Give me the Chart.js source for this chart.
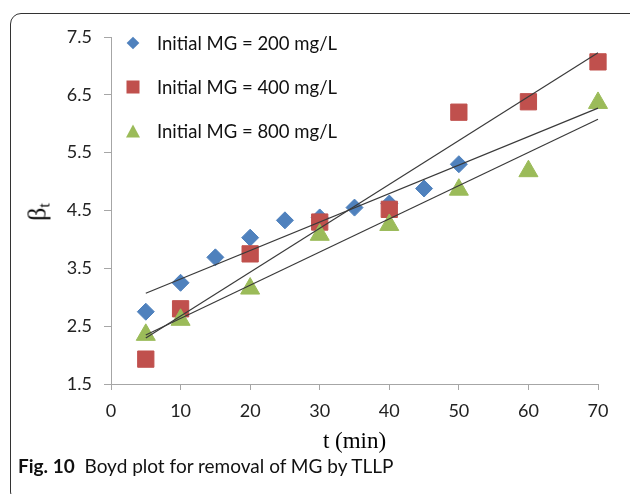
<!DOCTYPE html>
<html>
<head>
<meta charset="utf-8">
<script src="https://cdn.jsdelivr.net/npm/chart.js@4.4.0/dist/chart.umd.min.js"></script>
<style>
  html, body { margin: 0; padding: 0; background: #fff; }
  body { width: 630px; height: 494px; position: relative; overflow: hidden; font-family: Lato, sans-serif; }
  .frame { position: absolute; left: 10px; top: 13px; width: 700px; height: 490px; border: 1.5px solid #333; border-radius: 11px; box-sizing: border-box; }
  #boydChart { position: absolute; left: 0; top: 0; }
  .ylabel { position: absolute; left: 38px; top: 212px; transform: translate(-50%, -50%) rotate(-90deg); font-family: 'Liberation Serif', serif; font-size: 26px; color: #000; white-space: nowrap; }
  .ylabel sub { font-size: 16px; vertical-align: -4px; }
  .legend { position: absolute; left: 120px; top: 31px; }
  .legend .row { position: relative; height: 44px; font-size: 18.5px; color: #111; }
  .legend .mk { position: absolute; left: 13px; top: 12px; transform: translate(-50%, -50%); }
  .legend .txt { position: absolute; left: 37px; top: 0; line-height: 24px; white-space: nowrap; }
  .caption { position: absolute; left: 18px; top: 455px; font-size: 19px; line-height: 22px; color: #111; white-space: nowrap; }
</style>
</head>
<body>
<div class="frame"></div>
<canvas id="boydChart" width="630" height="494"></canvas>
<div class="ylabel">β<sub>t</sub></div>
<div class="legend" id="legend"></div>
<div class="caption"><b>Fig. 10</b>&nbsp; Boyd plot for removal of MG by TLLP</div>
<script>
// valores
const time200 = [5, 10, 15, 20, 25, 30, 35, 40, 45, 50];
const beta200 = [2.75, 3.25, 3.69, 4.03, 4.33, 4.38, 4.55, 4.62, 4.88, 5.30];
const time400 = [5, 10, 20, 30, 40, 50, 60, 70];
const beta400 = [1.93, 2.80, 3.75, 4.30, 4.52, 6.20, 6.38, 7.07];
const time800 = [5, 10, 20, 30, 40, 50, 60, 70];
const beta800 = [2.35, 2.61, 3.15, 4.08, 4.25, 4.86, 5.18, 6.36];
const seriesLabels = ['Initial MG = 200 mg/L', 'Initial MG = 400 mg/L', 'Initial MG = 800 mg/L'];
const seriesColors = ['#4F81BD', '#C0504D', '#9BBB59'];
const trendRange = [5, 70];
const yTicks = [1.5, 2.5, 3.5, 4.5, 5.5, 6.5, 7.5];

const toPoints = (xs, ys) => xs.map((x, i) => ({ x: x, y: ys[i] }));

// recta de mínimos cuadrados (línea de tendencia)
function trend(xs, ys) {
  const n = xs.length;
  const mx = xs.reduce((a, b) => a + b, 0) / n;
  const my = ys.reduce((a, b) => a + b, 0) / n;
  let sxy = 0, sxx = 0;
  xs.forEach((x, i) => { sxy += (x - mx) * (ys[i] - my); sxx += (x - mx) * (x - mx); });
  const m = sxy / sxx;
  const b = my - m * mx;
  return trendRange.map(x => ({ x: x, y: m * x + b }));
}

const lineStyle = {
  type: 'line',
  borderColor: '#3a3a3a',
  borderWidth: 1.2,
  pointRadius: 0,
  showLine: true,
  fill: false,
  clip: false,
  order: 0,
};

const chartData = {
  datasets: [
    { ...lineStyle, label: 'trend200', data: trend(time200, beta200) },
    { ...lineStyle, label: 'trend400', data: trend(time400, beta400) },
    { ...lineStyle, label: 'trend800', data: trend(time800, beta800) },
    {
      label: seriesLabels[0], data: toPoints(time200, beta200),
      pointStyle: 'rectRot', pointRadius: 8.5, borderWidth: 1,
      backgroundColor: seriesColors[0], borderColor: seriesColors[0], clip: false, order: 3,
    },
    {
      label: seriesLabels[1], data: toPoints(time400, beta400),
      pointStyle: 'rect', pointRadius: 11.5, borderWidth: 1,
      backgroundColor: seriesColors[1], borderColor: seriesColors[1], clip: false, order: 2,
    },
    {
      label: seriesLabels[2], data: toPoints(time800, beta800),
      pointStyle: 'triangle', pointRadius: 11, borderWidth: 1,
      backgroundColor: seriesColors[2], borderColor: seriesColors[2], clip: false, order: 1,
    },
  ],
};

const axisGray = '#a6a6a6';
const tickFont = { family: 'Lato', size: 18 };

const config = {
  type: 'scatter',
  data: chartData,
  options: {
    responsive: false,
    animation: false,
    layout: { padding: { left: 0, right: 32, top: 37, bottom: 30 } },
    scales: {
      x: {
        type: 'linear',
        min: 0,
        max: 70,
        afterFit: (scale) => { scale.height = 80; },
        border: { display: true, color: axisGray, width: 1 },
        grid: { drawOnChartArea: false, drawTicks: true, tickLength: 6, color: axisGray },
        ticks: { stepSize: 10, color: '#222', font: tickFont, padding: 10 },
        title: {
          display: true,
          text: 't (min)',
          color: '#000',
          font: { family: 'Liberation Serif', size: 23 },
          padding: { top: 0, bottom: 8 },
        },
      },
      y: {
        type: 'linear',
        min: 1.5,
        max: 7.5,
        afterFit: (scale) => { scale.width = 111; },
        afterBuildTicks: (scale) => { scale.ticks = yTicks.map(v => ({ value: v })); },
        border: { display: true, color: axisGray, width: 1 },
        grid: { drawOnChartArea: false, drawTicks: true, tickLength: 7, color: axisGray },
        ticks: { color: '#222', font: tickFont, padding: 12, callback: (v) => v.toFixed(1) },
      },
    },
    plugins: {
      legend: { display: false },
      tooltip: { enabled: false },
      title: { display: false },
    },
  },
};

new Chart(document.getElementById('boydChart'), config);

// leyenda dentro del área del gráfico
const markerCss = [
  'width:9px;height:9px;background:' + seriesColors[0] + ';transform:translate(-50%,-50%) rotate(45deg);',
  'width:13px;height:13px;background:' + seriesColors[1] + ';',
  'width:0;height:0;border-left:7px solid transparent;border-right:7px solid transparent;border-bottom:13px solid ' + seriesColors[2] + ';',
];
const legendEl = document.getElementById('legend');
seriesLabels.forEach((txt, i) => {
  const row = document.createElement('div');
  row.className = 'row';
  row.innerHTML = '<div class="mk" style="' + markerCss[i] + '"></div><div class="txt">' + txt + '</div>';
  legendEl.appendChild(row);
});
</script>
</body>
</html>
